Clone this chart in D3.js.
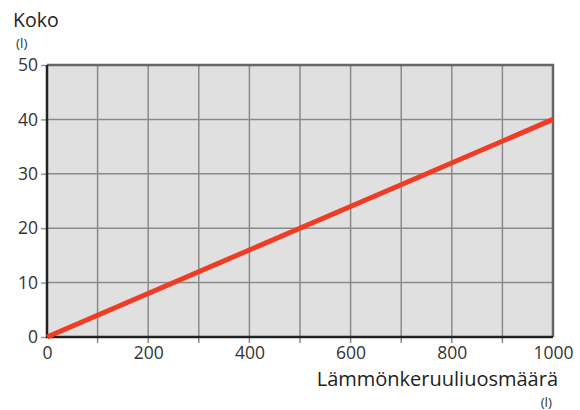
<!DOCTYPE html>
<html>
<head>
<meta charset="utf-8">
<script src="https://cdn.jsdelivr.net/npm/d3@7"></script>
<style>
  body { margin: 0; background: #fff; }
  svg { font-family: 'Open Sans', sans-serif; }
</style>
</head>
<body>
<svg id="chart" width="580" height="410"></svg>
<script>
// data
var xTicks = [0, 200, 400, 600, 800, 1000];
var yTicks = [0, 10, 20, 30, 40, 50];
var xGrid = [100, 200, 300, 400, 500, 600, 700, 800, 900];
var yGrid = [10, 20, 30, 40];
var lineX = [0, 1000];
var lineY = [0, 40];

var margin = { top: 65, right: 27, bottom: 73, left: 47 },
    width = 580 - margin.left - margin.right,
    height = 410 - margin.top - margin.bottom;

var svg = d3.select("#chart");
var g = svg.append("g").attr("transform", `translate(${margin.left},${margin.top})`);

var x = d3.scaleLinear().domain([0, 1000]).range([0, width]);
var y = d3.scaleLinear().domain([0, 50]).range([height, 0]);

// plot background
g.append("rect")
  .attr("width", width).attr("height", height)
  .attr("fill", "#e0e0e0");

// vertical grid (extends below as ticks)
g.selectAll(".vg").data(xGrid).enter().append("line")
  .attr("x1", d => x(d)).attr("x2", d => x(d))
  .attr("y1", 0).attr("y2", height + 6)
  .attr("stroke", "#8a8a8a").attr("stroke-width", 1.5);

// horizontal grid
g.selectAll(".hg").data(yGrid).enter().append("line")
  .attr("x1", 0).attr("x2", width)
  .attr("y1", d => y(d)).attr("y2", d => y(d))
  .attr("stroke", "#8a8a8a").attr("stroke-width", 1.5);

// top and right borders
g.append("path")
  .attr("d", `M0,0H${width}V${height}`)
  .attr("fill", "none").attr("stroke", "#666").attr("stroke-width", 2.5);

// axes
var xAxis = d3.axisBottom(x).tickValues(xTicks).tickFormat(d3.format("d")).tickSize(0).tickPadding(10);
var yAxis = d3.axisLeft(y).tickValues(yTicks).tickSize(6).tickPadding(3);

var gx = g.append("g").attr("transform", `translate(0,${height})`).call(xAxis);
gx.select(".domain").remove();

var gy = g.append("g").call(yAxis);
gy.select(".domain").remove();
gy.selectAll(".tick line").attr("stroke", "#999").attr("stroke-width", 1.5);

g.selectAll(".tick text")
  .style("font-size", "17.5px")
  .style("font-family", "'Open Sans', sans-serif")
  .attr("fill", "#333");

// left and bottom axis lines
g.append("path")
  .attr("d", `M0,0V${height}H${width}`)
  .attr("fill", "none").attr("stroke", "#222").attr("stroke-width", 2.5);

// data line
var pts = lineX.map((v, i) => ({ x: v, y: lineY[i] }));
g.append("path")
  .datum(pts)
  .attr("fill", "none")
  .attr("stroke", "#f03c24")
  .attr("stroke-width", 5)
  .attr("d", d3.line().x(d => x(d.x)).y(d => y(d.y)));

// titles
svg.append("text").attr("x", 13).attr("y", 27)
  .style("font-size", "19.5px").attr("fill", "#222").text("Koko");
svg.append("text").attr("x", 16).attr("y", 48)
  .style("font-size", "13.5px").attr("fill", "#333").text("(l)");
svg.append("text").attr("x", 558).attr("y", 386)
  .attr("text-anchor", "end")
  .style("font-size", "20px").attr("fill", "#222").text("Lämmönkeruuliuosmäärä");
svg.append("text").attr("x", 552).attr("y", 407)
  .attr("text-anchor", "end")
  .style("font-size", "13.5px").attr("fill", "#333").text("(l)");
</script>
</body>
</html>
